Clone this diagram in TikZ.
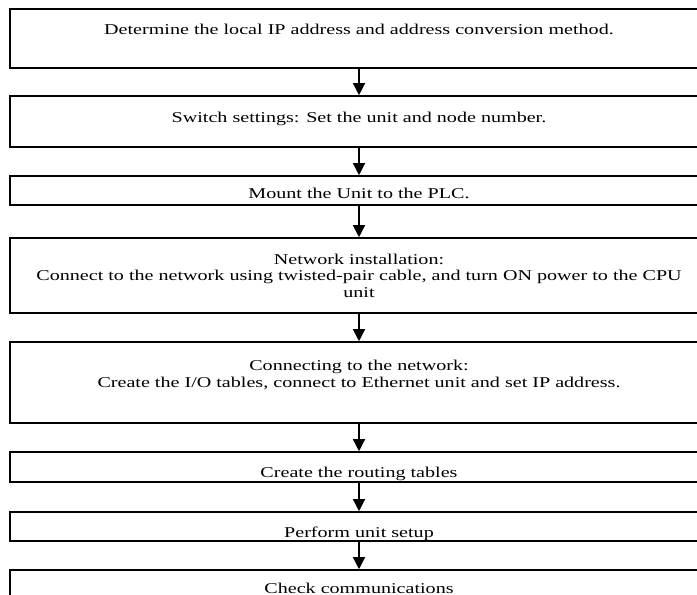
\documentclass[tikz,border=0pt]{standalone}
\usepackage{fontspec}
\setmainfont[FakeStretch=1.34]{Liberation Serif}
\usetikzlibrary{arrows.meta}

\begin{document}
\begin{tikzpicture}[
    x=1pt, y=-1pt,
    stepbox/.style={draw, line width=1.6pt, minimum width=710pt, inner sep=0pt},
    steptext/.style={anchor=base, align=center, inner sep=0pt,
                font=\fontsize{15}{16.5}\selectfont},
    arr/.style={-{Triangle[length=12pt, width=12pt]}, line width=1.3pt}
]
\useasboundingbox (0,0) rectangle (697,595);
\clip (0,0) rectangle (697,595);
% step texts (base = last line)
\node[steptext] (det) at (359,34) {Determine the local IP address and address conversion method.};
\node[steptext] (sw) at (359,122) {Switch settings: Set the unit and node number.};
\node[steptext] (mount) at (359,198) {Mount the Unit to the PLC.};
\node[steptext] (inst) at (359,297) {Network installation:\\
    Connect to the network using twisted-pair cable, and turn ON power to the CPU\\ unit};
\node[steptext] (conn) at (359,387) {Connecting to the network:\\
    Create the I/O tables, connect to Ethernet unit and set IP address.};
\node[steptext] (route) at (359,477) {Create the routing tables};
\node[steptext] (setup) at (359,537) {Perform unit setup};
\node[steptext] (check) at (359,593) {Check communications};
% boxes, running off the right edge
\node[stepbox, minimum height=59pt] (detbox) at (365,38.5) {};
\node[stepbox, minimum height=51pt] (swbox) at (365,121.5) {};
\node[stepbox, minimum height=29pt] (mountbox) at (365,190.5) {};
\node[stepbox, minimum height=75pt] (instbox) at (365,275.5) {};
\node[stepbox, minimum height=81pt] (connbox) at (365,382.5) {};
\node[stepbox, minimum height=30pt] (routebox) at (365,467) {};
\node[stepbox, minimum height=29pt] (setupbox) at (365,526.5) {};
\node[stepbox, minimum height=40pt] (checkbox) at (365,590) {};
% arrows
\draw[arr] (det |- detbox.south) -- (det |- swbox.north);
\draw[arr] (det |- swbox.south) -- (det |- mountbox.north);
\draw[arr] (det |- mountbox.south) -- (det |- instbox.north);
\draw[arr] (det |- instbox.south) -- (det |- connbox.north);
\draw[arr] (det |- connbox.south) -- (det |- routebox.north);
\draw[arr] (det |- routebox.south) -- (det |- setupbox.north);
\draw[arr] (det |- setupbox.south) -- (det |- checkbox.north);
\end{tikzpicture}
\end{document}
